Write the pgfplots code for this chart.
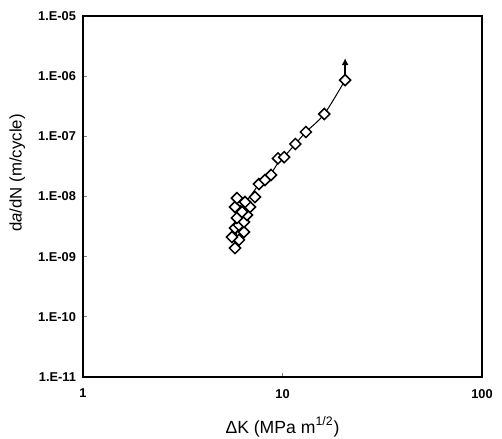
\documentclass[border=0pt]{standalone}
\usepackage{pgfplots}
\pgfplotsset{compat=1.18}
\usepackage{fontspec}
\setmainfont{Liberation Sans}
\usetikzlibrary{arrows.meta}
\begin{document}
\begin{tikzpicture}
\useasboundingbox (-41.5pt,-30.5pt) rectangle (209.5pt,188.5pt);
\begin{axis}[
  at={(0,0)}, anchor=south west,
  scale only axis, width=199.5pt, height=180.5pt,
  xmode=log, ymode=log,
  xmin=1, xmax=100, ymin=1e-11, ymax=1e-5,
  axis line style={line width=1pt},
  xtick={1,10,100}, xticklabels={1,10,100},
  ytick={1e-11,1e-10,1e-9,1e-8,1e-7,1e-6,1e-5},
  yticklabels={1.E-11,1.E-10,1.E-09,1.E-08,1.E-07,1.E-06,1.E-05},
  xminorticks=false, yminorticks=false,
  tick pos=left,
  tick align=inside, major tick length=2pt,
  tick style={line width=0.4pt},
  ticklabel style={font=\fontsize{6.4}{7}\selectfont\bfseries},
  xticklabel style={yshift=-2.5pt},
  xlabel={ΔK (MPa m\textsuperscript{1/2})},
  ylabel={d\textit{a}/dN (m/cycle)},
  every axis x label/.style={at={(axis description cs:0.5,-0.1385)}, anchor=center, font=\fontsize{8.8}{10}\selectfont},
  every axis y label/.style={at={(axis description cs:-0.165,0.565)}, anchor=center, rotate=90, font=\fontsize{8.4}{10}\selectfont},
  clip=false,
]
% trend line, lower part
\addplot[black, line width=0.5pt] coordinates {
 (5.78,1.39e-9) (5.9,2.5e-9) (6.0,4.5e-9) (6.15,7e-9) (6.8,9.5e-9) (7.62,1.61e-8)
};
% trend line, upper part
\addplot[black, line width=0.5pt, smooth] coordinates {
 (7.62,1.61e-8) (8.17,1.88e-8) (8.76,2.4e-8) (9.49,3.6e-8) (10.2,4.6e-8) (11.6,7.46e-8) (13.1,1.18e-7) (16.2,2.35e-7) (20.6,8.6e-7)
};
% data points
\addplot[only marks, mark=square*, mark size=1.95pt, mark options={rotate=45, fill=white, draw=black, line width=0.75pt}] coordinates {
 (5.78,1.39e-9) (6.05,1.9e-9) (5.58,2.12e-9) (6.41,2.57e-9) (5.78,3.0e-9)
 (6.05,3.36e-9) (6.41,3.77e-9) (5.91,4.4e-9) (6.64,4.93e-9) (6.27,5.53e-9)
 (5.78,6.7e-9) (6.87,6.7e-9) (6.49,8.1e-9) (5.91,9.4e-9) (7.28,9.8e-9)
 (7.62,1.61e-8) (8.17,1.88e-8) (8.76,2.28e-8) (9.49,4.3e-8) (10.2,4.5e-8)
 (11.6,7.46e-8) (13.1,1.18e-7) (16.2,2.35e-7) (20.6,8.6e-7)
};
% arrow
\addplot[black, line width=0.8pt, -{Latex[length=3.5pt,width=3.5pt]}] coordinates {(20.6,1.05e-6) (20.6,2.0e-6)};
\end{axis}
\end{tikzpicture}
\end{document}
